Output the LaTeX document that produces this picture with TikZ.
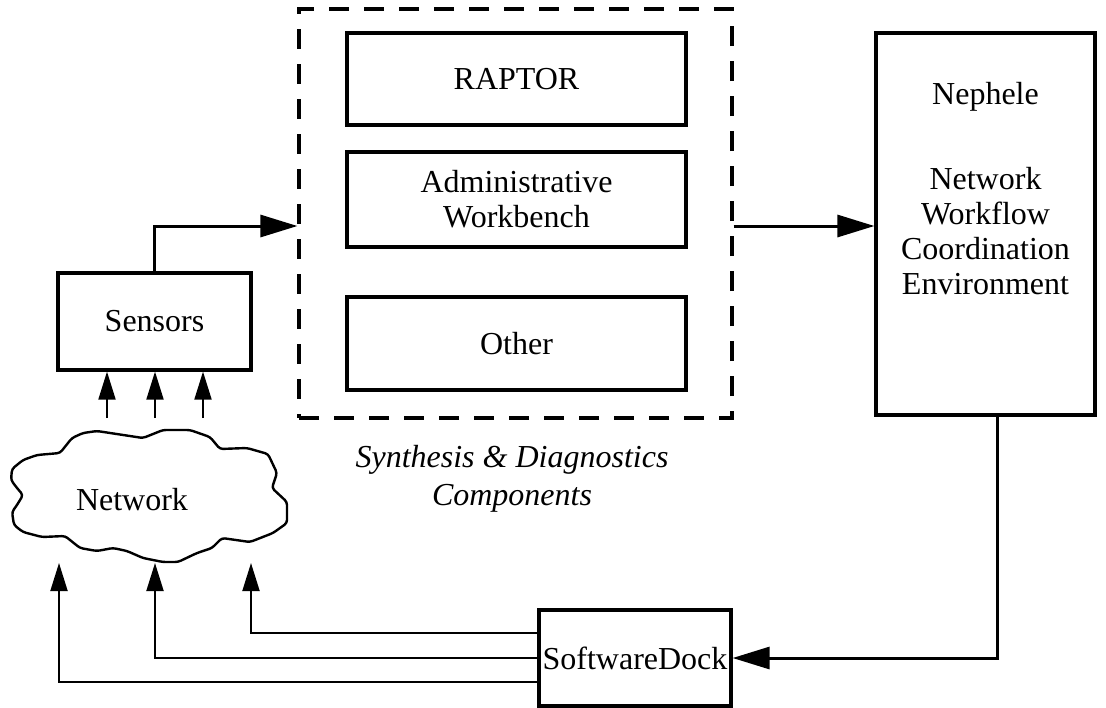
\documentclass[tikz,border=0pt]{standalone}
\usepackage{fontspec}
\setmainfont{Liberation Serif}
\usepackage{tikz}
\usetikzlibrary{arrows.meta, positioning, calc}

\begin{document}
\begin{tikzpicture}[x=0.5pt, y=-0.5pt,
    every node/.style={font=\fontsize{16}{17.5}\selectfont},
    box/.style={draw, line width=1.6pt, inner sep=0pt, align=center},
    bigarrow/.style={line width=1.5pt, -{Triangle[length=18.5pt, width=11pt]}},
    thinarrow/.style={line width=0.95pt, -{Triangle[length=14pt, width=8.5pt]}}]
\useasboundingbox (0,0) rectangle (1106,707);

% Synthesis & diagnostics group
\node[box, dash pattern=on 10pt off 7.5pt, minimum width=216.5pt, minimum height=204.5pt] (synth) at (515.5,213.5) {};
\node[box, minimum width=169.5pt, minimum height=46pt] (raptor) at (516.5,79) {RAPTOR};
\node[box, minimum width=169.5pt, minimum height=47.5pt] (admin) at (516.5,199.5) {Administrative\\Workbench};
\node[box, minimum width=169.5pt, minimum height=46.5pt] (other) at (516.5,343.5) {Other};
\node[font=\fontsize{16}{17.5}\selectfont\itshape, align=center, inner sep=0pt] (synthlabel) at (512,479) {Synthesis \& Diagnostics\\[1.5pt]Components};

% Nephele
\node[box, minimum width=109.5pt, minimum height=191pt] (nephele) at (985.5,224) {};
\node[anchor=base, inner sep=0pt] (nephname) at (985.5,104) {Nephele};
\node[anchor=north, align=center, inner sep=0pt] (nephtext) at (985.5,167) {Network\\Workflow\\Coordination\\Environment};

% Sensors, SoftwareDock
\node[box, minimum width=96.5pt, minimum height=48.5pt] (sensors) at (154.5,321.5) {Sensors};
\node[box, minimum width=96pt, minimum height=48pt] (dock) at (635,658) {SoftwareDock};

% Network cloud
\draw[line width=1.2pt, line join=round, rounded corners=1.5pt]
    (12,469) -- (23,460) -- (37,455) -- (60,453) -- (72,438) -- (83,433) -- (97,431)
    -- (143,438) -- (163,430) -- (190,430) -- (210,437) -- (220,449) -- (247,448)
    -- (268,454) -- (277,473) -- (272,488) -- (287,502) -- (287,523) -- (273,533)
    -- (250,542) -- (222,538) -- (212,548) -- (197,553) -- (178,562) -- (163,562)
    -- (143,558) -- (127,551) -- (113,548) -- (97,551) -- (80,548) -- (65,536)
    -- (42,537) -- (23,532) -- (14,525) -- (12,512) -- (17,505) -- (23,495)
    -- (17,488) -- (11,480) -- cycle;
\node (network) at (132,500) {Network};

% Network feeds the sensors
\foreach \i/\x in {1/107, 2/155, 3/203} {
    \coordinate (in\i) at (\x,418);
    \draw[thinarrow] (in\i) -- (in\i |- sensors.south);
}

% Main flow
\coordinate (feed) at ([yshift=-6.25pt]synth.west);
\draw[bigarrow] (sensors.north) |- (feed);
\draw[bigarrow] (synth.east |- feed) -- (nephele.west |- feed);
\draw[bigarrow] ([xshift=5.75pt]nephele.south) |- (dock.east);

% SoftwareDock back to the network
\foreach \i/\x/\dy in {1/59/-12, 2/155/0, 3/251/12.5} {
    \coordinate (nt\i) at (\x,563);
    \draw[thinarrow] ([yshift=\dy pt]dock.west) -| (nt\i);
}
\end{tikzpicture}
\end{document}
